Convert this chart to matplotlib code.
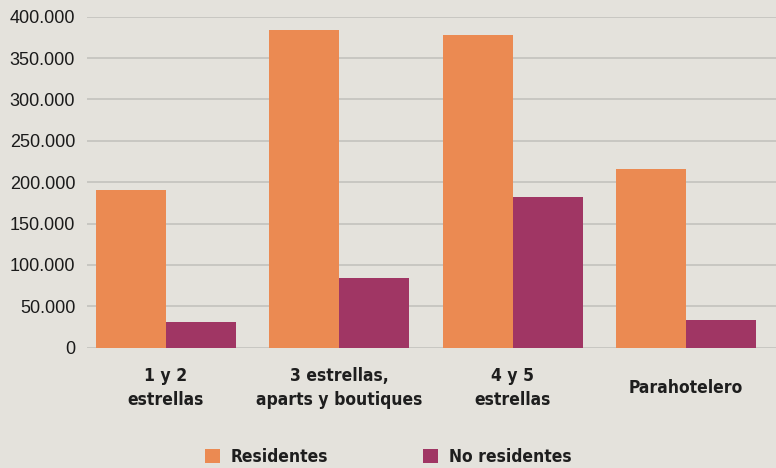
import matplotlib
matplotlib.use('Agg')
import matplotlib.pyplot as plt
import numpy as np
from matplotlib.ticker import FuncFormatter

categorias = ['1 y 2\nestrellas', '3 estrellas,\naparts y boutiques', '4 y 5\nestrellas', 'Parahotelero']
residentes = [190000, 384000, 378000, 216000]
no_residentes = [31000, 84000, 182000, 33500]
series = ['Residentes', 'No residentes']

bg = '#e4e2dc'
c_res = '#eb8a52'
c_nores = '#a03664'
narrow = ['DejaVu Sans']

fig = plt.figure(figsize=(7.76, 4.68), dpi=100, facecolor=bg)
ax = fig.add_axes([87 / 776, 1 - 347.7 / 468, 1 - 87 / 776, (347.7 - 16.7) / 468])
ax.set_facecolor(bg)

x = np.arange(len(categorias))
w = 0.404
b1 = ax.bar(x - w / 2, residentes, w, color=c_res, label=series[0], zorder=3)
b2 = ax.bar(x + w / 2, no_residentes, w, color=c_nores, label=series[1], zorder=3)

ax.set_xlim(-0.456, 3.52)
ax.set_ylim(0, 400000)
ax.set_yticks(np.arange(0, 400001, 50000))
ax.yaxis.set_major_formatter(FuncFormatter(lambda v, p: f'{int(v):,}'.replace(',', '.')))
ax.grid(axis='y', color='#c6c5c0', lw=1.3, zorder=0)
ax.set_axisbelow(True)
for s in ax.spines.values():
    s.set_visible(False)

ax.tick_params(axis='y', length=0, pad=8.5, labelsize=13, labelcolor='#1a1a1a')
for lab in ax.get_yticklabels():
    lab.set_family(['Liberation Sans', 'DejaVu Sans'])

ax.set_xticks(x)
ax.set_xticklabels(categorias, fontsize=12.5, fontweight='bold', family=narrow,
                   fontstretch='condensed', color='#1e1e1e', linespacing=1.4)
ax.tick_params(axis='x', length=0, pad=29)
for lab in ax.get_xticklabels():
    lab.set_va('center')

leg = fig.legend(handles=[b1, b2], labels=series, loc='center', ncol=2,
                 bbox_to_anchor=(0.5, 0.023), frameon=False, borderpad=0,
                 handlelength=0.86, handleheight=0.86, handletextpad=0.6,
                 columnspacing=5.5,
                 prop={'family': narrow, 'weight': 'bold', 'size': 12.5, 'stretch': 'condensed'})
for t in leg.get_texts():
    t.set_color('#1e1e1e')

fig.savefig('out.png', dpi=100, facecolor=bg)
